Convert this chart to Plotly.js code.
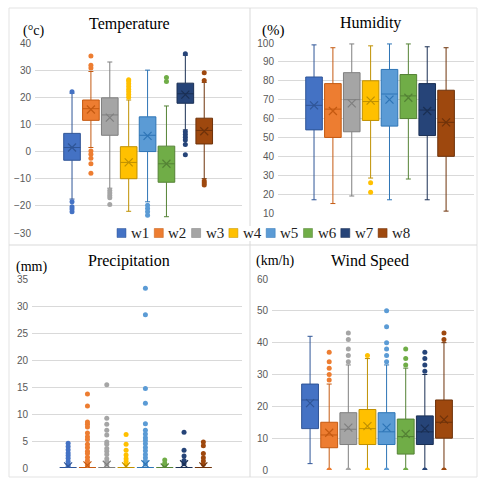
<!DOCTYPE html>
<html>
<head>
<meta charset="utf-8">
<script src="https://cdn.plot.ly/plotly-3.0.1.min.js"></script>
<style>html,body{margin:0;padding:0;background:#fff;}#chart{width:478px;height:478px;}</style>
</head>
<body>
<div id="chart"></div>
<script>
const categories = ['w1','w2','w3','w4','w5','w6','w7','w8'];
const colors = ['#4472C4','#ED7D31','#A5A5A5','#FFC000','#5B9BD5','#70AD47','#264478','#9E480E'];
const lineColors = ['#2F5597','#C55A11','#7F7F7F','#BF9000','#2E75B6','#548235','#1A2F54','#6E320A'];

// Temperature (°c)
const tempLower  = [-17.5, 1.5, -13.5, -22, -18.5, -24, 8, -10];
const tempQ1     = [-3.2, 11.5, 6, -10, 0, -11.3, 17.8, 2.8];
const tempMedian = [1.5, 15.8, 13.5, -4, 6, -4.5, 21.3, 7.8];
const tempQ3     = [6.7, 19, 19.8, 1.8, 12.8, 2, 25.2, 12.3];
const tempUpper  = [21.5, 29.5, 33, 19, 30, 16.8, 35.5, 25.5];
const tempMean   = [1.5, 15.5, 12.5, -4, 5.8, -4.5, 21, 7.5];
const tempOutliers = [
  [22, -18.5, -20.3, -21.2, -22.2],
  [35.2, 31.8, 30.8, 0.2, -1, -2.5, -4.5, -8],
  [-14.3, -15.3, -16.2, -17, -19.5],
  [20, 21, 22, 23, 24, 25, 26, 26.5],
  [-19.8, -21, -22.2, -23.5],
  [25.8, 27.3],
  [36, 7.3, 6.3, 5.3, 4.3, 2.6, -1.2],
  [29, 26.2, -10.8, -11.6, -12.3]
];

// Humidity (%)
const humLower  = [17, 15, 19, 28.5, 17, 28, 17, 11];
const humQ1     = [54, 50, 53, 59, 56, 60, 51, 40];
const humMedian = [67, 65, 70, 69, 73, 72, 64.5, 58];
const humQ3     = [82, 78.5, 84.3, 80, 86, 83.3, 78.5, 75];
const humUpper  = [99, 97.5, 99.5, 98.5, 99.5, 99.5, 98, 97.5];
const humMean   = [67, 64, 68, 69.5, 70, 71, 64, 58];
const humOutliers = [[], [], [], [26, 21], [], [], [], []];

// Precipitation (mm)
const preLower  = [0, 0, 0, 0, 0, 0, 0, 0];
const preQ1     = [0, 0, 0, 0, 0, 0, 0, 0];
const preMedian = [0, 0, 0, 0, 0, 0, 0, 0];
const preQ3     = [0, 0, 0, 0, 0, 0, 0, 0];
const preUpper  = [0, 0, 0, 0, 0, 0, 0, 0];
const preMean   = [0.3, 0.5, 0.6, 0.3, 0.7, 0.1, 0.7, 0.3];
const preOutliers = [
  [4.6, 4.0, 3.4, 2.8, 2.3, 1.8, 1.2, 0.7, 0.3],
  [13.7, 11.5, 8.5, 8.1, 7.6, 6.5, 5.8, 5.3, 4.4, 3.8, 3.1, 2.7, 2.0, 1.4, 0.9, 0.5],
  [15.4, 9.2, 8.1, 7.0, 6.1, 4.8, 4.4, 3.6, 3.1, 2.5, 1.7, 1.2, 0.7],
  [6.2, 4.4, 3.3, 2.4, 1.7, 1.2, 0.7],
  [33.3, 28.4, 14.7, 12.0, 8.2, 7.0, 6.3, 5.6, 5.1, 4.5, 3.8, 3.2, 2.5, 1.9, 1.3, 0.7],
  [1.5, 0.9, 0.5],
  [6.6, 3.3, 2.2, 1.4, 0.8],
  [4.8, 4.1, 2.7, 1.9, 1.3, 0.7]
];

// Wind Speed (km/h)
const windLower  = [2, 0, 0, 0, 0, 0, 0, 0];
const windQ1     = [13, 7, 8, 8, 8, 5, 8, 10];
const windMedian = [22, 11, 12.8, 13, 12, 10.5, 12, 15];
const windQ3     = [27, 15, 18, 19, 18, 16, 17, 22];
const windUpper  = [42, 27, 33, 35, 33, 32, 30, 40];
const windMean   = [21, 11.7, 13.3, 13.8, 13.3, 11.3, 13, 15.8];
const windOutliers = [
  [],
  [37, 34, 32, 30, 28.3, 0],
  [43, 41, 38, 36, 34, 0],
  [36, 0],
  [50, 45, 40, 38, 36, 34, 0],
  [38, 35, 33, 0],
  [37, 35, 33, 31, 0],
  [43, 41, 0]
];

const traces = [];
function addPanel(xa, ya, lower, q1, med, q3, upper, mean, outliers, lw) {
  categories.forEach((c, i) => {
    traces.push({
      type: 'box', x: [c], q1: [q1[i]], median: [med[i]], q3: [q3[i]],
      lowerfence: [lower[i]], upperfence: [upper[i]],
      xaxis: xa, yaxis: ya, fillcolor: colors[i],
      line: {color: lineColors[i], width: lw},
      whiskerwidth: 0.3, width: 0.88, boxpoints: false,
      showlegend: false, hoverinfo: 'skip'
    });
    if (outliers[i].length) {
      traces.push({
        type: 'scatter', mode: 'markers', x: outliers[i].map(() => c), y: outliers[i],
        xaxis: xa, yaxis: ya, marker: {color: colors[i], size: 5},
        showlegend: false, hoverinfo: 'skip'
      });
    }
    traces.push({
      type: 'scatter', mode: 'markers', x: [c], y: [mean[i]], xaxis: xa, yaxis: ya,
      marker: {symbol: 'x-thin', size: 8, line: {color: lineColors[i], width: 1.2}},
      showlegend: false, hoverinfo: 'skip'
    });
  });
}
addPanel('x', 'y', tempLower, tempQ1, tempMedian, tempQ3, tempUpper, tempMean, tempOutliers, 1);
addPanel('x2', 'y2', humLower, humQ1, humMedian, humQ3, humUpper, humMean, humOutliers, 1);
addPanel('x3', 'y3', preLower, preQ1, preMedian, preQ3, preUpper, preMean, preOutliers, 2);
addPanel('x4', 'y4', windLower, windQ1, windMedian, windQ3, windUpper, windMean, windOutliers, 1);

const W = 478;
const px = v => v / W;
const py = v => 1 - v / W;

const tickFont = {family: 'Liberation Sans, Arial, sans-serif', size: 10, color: '#595959'};
function xAx(d, r, anchor) {
  return {domain: d, range: r, anchor: anchor, type: 'category', categoryarray: categories, showticklabels: false,
    showgrid: false, zeroline: false, showline: false, ticks: '', fixedrange: true};
}
function yAx(d, r, dt, anchor) {
  return {domain: d, range: r, dtick: dt, tick0: 0, anchor: anchor, showgrid: true, gridcolor: '#D9D9D9',
    gridwidth: 1, zeroline: false, showline: false, ticks: '', tickfont: tickFont, ticklabelstandoff: 3};
}

const serif = 'Liberation Serif, Times New Roman, serif';
function ann(text, x, y, size) {
  return {text: text, x: px(x), y: py(y), xref: 'paper', yref: 'paper', showarrow: false,
    xanchor: 'center', yanchor: 'middle', font: {family: serif, size: size, color: '#000'}};
}
const annotations = [
  ann('Temperature', 129, 24, 16),
  ann('(°c)', 33, 31, 14),
  ann('Humidity', 370, 23, 16),
  ann('(%)', 273, 30, 15),
  ann('Precipitation', 129, 261, 16),
  ann('(mm)', 32, 267, 14),
  ann('Wind Speed', 370, 261, 16),
  ann('(km/h)', 275, 261, 14)
];

const shapes = [
  {type: 'rect', xref: 'paper', yref: 'paper', x0: px(9), x1: px(477), y0: py(477), y1: py(8),
    line: {color: '#E3E3E3', width: 1}, layer: 'below'},
  {type: 'line', xref: 'paper', yref: 'paper', x0: px(250), x1: px(250), y0: py(477), y1: py(8),
    line: {color: '#D9D9D9', width: 1}, layer: 'below'},
  {type: 'line', xref: 'paper', yref: 'paper', x0: px(9), x1: px(477), y0: py(245), y1: py(245),
    line: {color: '#D9D9D9', width: 1}, layer: 'below'},
  {type: 'rect', xref: 'paper', yref: 'paper', x0: px(112), x1: px(405), y0: py(241), y1: py(226),
    fillcolor: '#FFFFFF', line: {width: 0}, layer: 'above'}
];
categories.forEach((c, i) => {
  const x0 = 117 + i * 37.3;
  shapes.push({type: 'rect', xref: 'paper', yref: 'paper', x0: px(x0), x1: px(x0 + 9),
    y0: py(237.5), y1: py(228.5), fillcolor: colors[i], line: {color: lineColors[i], width: 0.5}, layer: 'above'});
  annotations.push({text: c, x: px(x0 + 12), y: py(233), xref: 'paper', yref: 'paper', showarrow: false,
    xanchor: 'left', yanchor: 'middle', font: {family: serif, size: 15, color: '#222'}});
});

const layout = {
  width: 478, height: 478,
  margin: {l: 0, r: 0, t: 0, b: 0},
  paper_bgcolor: '#fff', plot_bgcolor: '#fff',
  showlegend: false, boxmode: 'overlay',
  xaxis:  xAx([px(35), px(242)], [-1.96, 9.0], 'y'),
  yaxis:  yAx([py(233), py(43)], [-30, 40], 10, 'x'),
  xaxis2: xAx([px(278), px(474)], [-1.91, 8.48], 'y2'),
  yaxis2: yAx([py(213), py(43)], [10, 100], 10, 'x2'),
  xaxis3: xAx([px(32), px(242)], [-1.87, 9.0], 'y3'),
  yaxis3: yAx([py(468), py(279)], [0, 35], 5, 'x3'),
  xaxis4: xAx([px(272), px(474)], [-1.99, 8.57], 'y4'),
  yaxis4: yAx([py(470), py(279)], [0, 60], 10, 'x4'),
  annotations: annotations,
  shapes: shapes
};

Plotly.newPlot('chart', traces, layout, {staticPlot: true, displayModeBar: false});
</script>
</body>
</html>
